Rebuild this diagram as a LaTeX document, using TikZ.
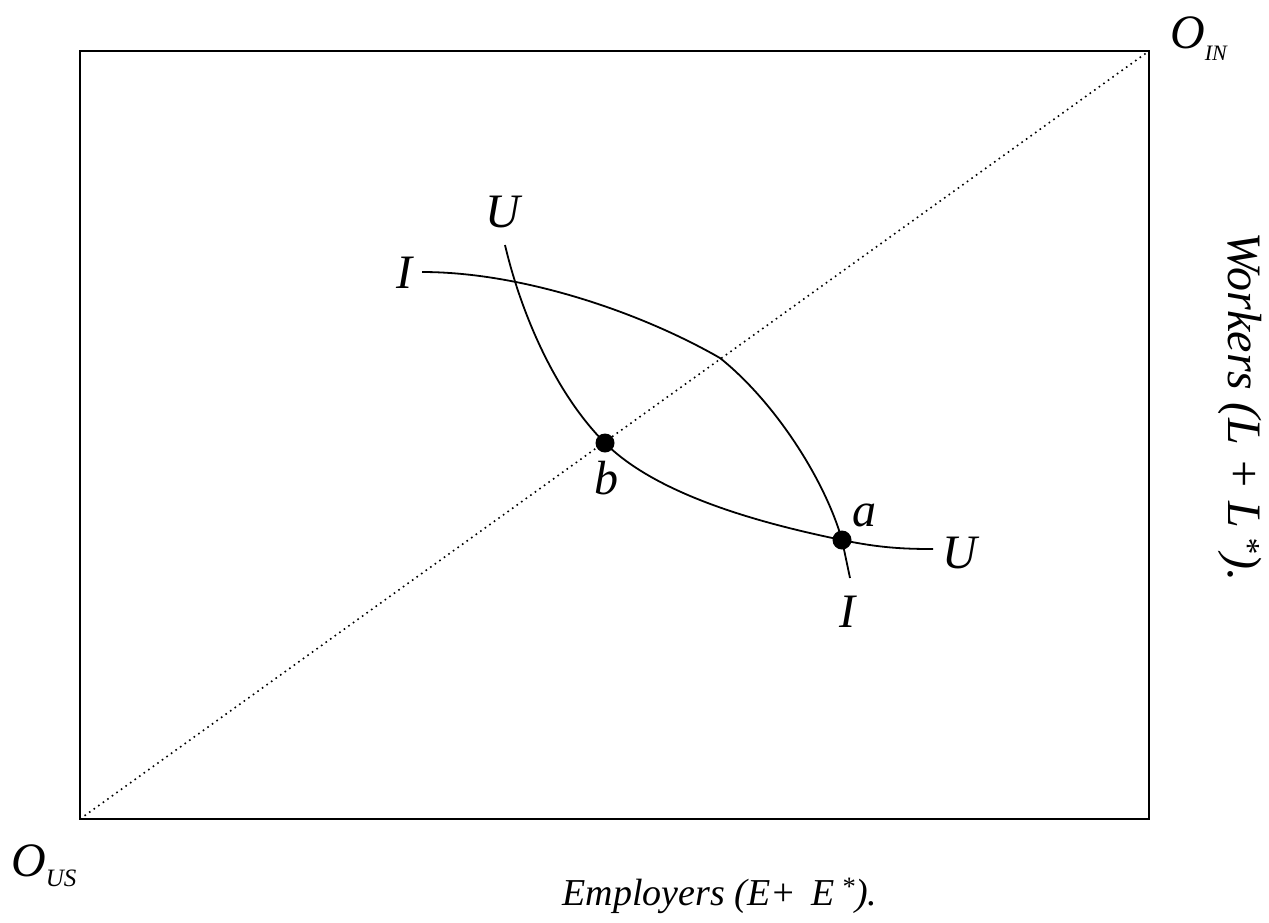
\documentclass[tikz,border=0pt]{standalone}
\usepackage{fontspec}
\setmainfont{Liberation Serif}
\begin{document}
\begin{tikzpicture}[x=1pt,y=-1pt,
  frame/.style={line width=2pt},
  curve/.style={line width=1.8pt},
  diag/.style={line width=1.6pt, dash pattern=on 1.6pt off 4pt},
  pt/.style={circle, fill=black, inner sep=0pt, minimum size=19pt},
  lbl/.style={font=\fontsize{48}{52}\selectfont\itshape, inner sep=0pt},
  axis/.style={font=\fontsize{38}{42}\selectfont\itshape, inner sep=0pt}
]
\useasboundingbox (0,0) rectangle (1269,922);
\coordinate (bl) at (80,819);
\coordinate (tr) at (1149,51);
\draw[frame] (bl) rectangle (tr);
\draw[diag] (bl) -- (tr);
% curves
\coordinate (Ustart) at (505,245);
\coordinate (Uend) at (933,549);
\coordinate (Istart) at (422,272);
\coordinate (Imid) at (720,358);
\coordinate (Iend) at (850,578);
\node[pt] (b) at (605,443) {};
\node[pt] (a) at (842,540) {};
\draw[curve] (Ustart) .. controls (521,313) and (555,393) .. (b.center)
  .. controls (658,496) and (764,524) .. (a.center)
  .. controls (880,548) and (905,549) .. (Uend);
\draw[curve] (Istart) .. controls (522,272) and (640,312) .. (Imid)
  .. controls (775,402) and (825,480) .. (a.center) -- (Iend);
% labels
\node[lbl] (lU1) at (503,212) {U};
\node[lbl] (lI1) at (404,273) {I};
\node[lbl] (lb) at (606,478) {b};
\node[lbl] (la) at (864,515) {a};
\node[lbl] (lU2) at (960,553) {U};
\node[lbl] (lI2) at (847,612) {I};
\node[lbl, anchor=base west] (OIN) at (1170,48) {O\raisebox{-0.25em}{\fontsize{22}{24}\selectfont\itshape IN}};
\node[lbl, anchor=base west] (OUS) at (11,876) {O\raisebox{-0.22em}{\fontsize{25}{27}\selectfont\itshape US}};
\node[axis, anchor=base] (emp) at (720,905) {Employers (E+ \,E\,\textsuperscript{*}).};
\node[axis, font=\fontsize{48}{52}\selectfont\itshape, rotate=-90] (wrk) at (1240,407) {Workers (L + L\,\textsuperscript{*}).};
\end{tikzpicture}
\end{document}
